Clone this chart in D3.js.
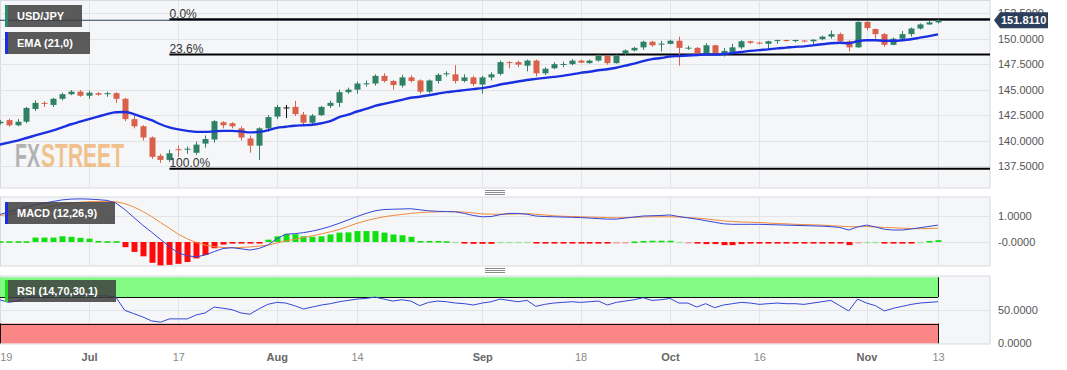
<!DOCTYPE html>
<html><head><meta charset="utf-8">
<script src="https://cdn.jsdelivr.net/npm/d3@7"></script>
<style>body{margin:0;background:#fff;} svg{display:block;font-family:"Liberation Sans",Arial,sans-serif;}</style>
</head><body><svg id="c" width="1067" height="370"></svg>
<script>
// ---- data (index 0 = Jun 19, one entry per trading day up to Nov 13) ----
const openP = [141.7,142.0,141.5,141.85,143.1,143.7,143.5,144.1,144.55,144.8,
144.4,144.65,144.55,144.65,144.1,142.1,141.4,140.3,138.5,138.1,
139.15,139.1,138.8,139.7,140.1,141.8,141.7,141.2,140.2,139.5,
141.2,142.35,143.25,143.3,142.55,141.75,142.5,143.4,143.7,144.75,
145.0,145.55,145.6,146.35,145.85,145.4,146.2,145.9,144.8,145.85,
146.55,146.5,145.85,146.2,145.5,146.2,146.55,147.7,147.7,147.35,
147.85,146.6,147.1,147.48,147.5,147.85,147.6,147.85,148.3,147.6,
148.5,148.85,149.15,149.7,149.48,149.5,149.8,149.08,149.1,148.5,
149.35,148.6,148.7,149.15,149.75,149.62,149.5,149.82,149.87,149.83,
149.82,149.75,149.95,150.2,150.45,149.75,149.15,151.65,150.95,150.45,
149.4,150.0,150.45,151.0,151.4,151.6];
const closeP = [141.85,141.5,141.85,143.2,143.7,143.6,144.1,144.55,144.8,144.4,
144.7,144.5,144.65,144.1,142.1,141.4,140.3,138.4,138.1,138.75,
139.05,139.2,139.6,140.15,141.9,141.5,141.4,140.3,139.5,141.2,
142.3,143.3,143.25,142.6,141.75,142.45,143.3,143.7,144.75,145.0,
145.6,145.62,146.35,145.85,145.45,146.2,145.85,144.8,145.9,146.45,
146.6,145.85,146.2,145.55,146.2,146.5,147.7,147.65,147.45,147.85,
146.6,147.05,147.5,147.52,147.85,147.65,147.85,148.3,147.6,148.35,
148.85,149.1,149.7,149.35,149.52,149.8,149.1,149.12,148.5,149.35,
148.5,148.8,149.15,149.75,149.6,149.58,149.75,149.86,149.83,149.87,
149.78,149.9,150.2,150.45,149.75,149.15,151.65,151.05,150.45,149.4,
150.0,150.45,151.0,151.4,151.6,151.81];
const highP = [142.0,142.15,142.1,143.3,143.95,143.85,144.2,144.7,144.95,144.95,
144.9,144.75,144.8,144.75,144.2,142.6,141.5,140.4,138.7,139.1,
139.5,139.4,139.9,140.5,142.0,141.9,141.8,141.4,140.5,141.3,
142.5,143.5,143.5,143.9,142.8,142.6,143.4,143.9,145.0,145.2,
145.8,145.9,146.5,146.6,145.95,146.45,146.4,146.0,146.0,146.6,
146.8,147.4,146.5,146.35,146.35,146.7,147.85,147.8,147.85,147.95,
147.95,147.2,147.7,147.75,148.0,147.95,147.95,148.45,148.4,148.45,
148.95,149.2,149.8,149.8,149.8,149.9,150.2,149.3,149.2,149.55,
149.4,149.1,149.5,149.85,149.8,149.7,149.8,149.9,149.9,149.9,
149.85,149.95,150.3,150.8,150.6,149.85,151.7,151.72,151.0,150.55,
150.1,150.75,151.1,151.5,151.75,151.9];
const lowP = [141.55,141.35,141.4,141.7,142.9,143.3,143.3,143.95,144.45,144.3,
144.1,144.4,144.3,143.7,141.9,141.2,140.0,138.2,137.8,137.9,
138.4,138.7,138.6,139.3,139.8,141.2,141.2,140.0,138.8,138.1,
140.9,142.1,142.2,142.4,141.5,141.6,142.4,143.2,143.3,144.6,
144.6,145.3,145.4,145.7,145.0,145.2,145.7,144.6,144.65,145.6,
146.3,145.6,145.7,145.35,144.6,145.9,146.4,147.1,147.2,146.8,
146.3,146.45,147.0,147.2,147.4,147.6,147.55,147.75,147.45,147.55,
148.4,148.75,148.9,149.2,148.75,149.45,147.35,148.9,148.45,148.4,
148.4,148.25,148.6,149.0,149.5,149.45,148.9,149.5,149.7,149.65,
149.65,149.45,149.85,150.0,149.6,148.75,149.1,150.8,150.0,149.2,
149.35,149.95,150.2,150.9,151.35,151.5];
const ema21 = [139.6,139.8,140.0,140.25,140.5,140.75,141.0,141.3,141.6,141.85,
142.1,142.35,142.6,142.78,142.8,142.6,142.3,142.0,141.6,141.3,
141.1,140.95,140.85,140.85,140.9,140.95,140.95,140.9,140.8,140.85,
141.0,141.25,141.35,141.45,141.5,141.55,141.7,141.9,142.3,142.55,
142.85,143.1,143.4,143.6,143.8,144.0,144.2,144.3,144.45,144.6,
144.75,144.85,144.95,145.05,145.15,145.3,145.5,145.65,145.8,145.95,
146.05,146.15,146.25,146.35,146.5,146.65,146.75,146.9,147.0,147.15,
147.35,147.55,147.8,148.0,148.1,148.25,148.3,148.35,148.4,148.45,
148.45,148.5,148.6,148.7,148.8,148.88,148.95,149.05,149.12,149.2,
149.25,149.35,149.45,149.55,149.6,149.55,149.75,149.85,149.85,149.8,
149.8,149.85,149.95,150.1,150.25,150.43];
const macdLine = [1.06,1.15,1.25,1.35,1.43,1.5,1.56,1.62,1.65,1.66,
1.65,1.63,1.6,1.5,1.25,0.95,0.65,0.38,0.1,-0.18,
-0.42,-0.53,-0.57,-0.5,-0.37,-0.25,-0.22,-0.26,-0.31,-0.25,
-0.12,0.12,0.3,0.32,0.36,0.42,0.5,0.6,0.72,0.85,
0.98,1.1,1.2,1.25,1.26,1.27,1.28,1.24,1.2,1.18,
1.17,1.16,1.1,1.02,0.97,0.98,1.05,1.1,1.1,1.07,
1.0,0.98,0.97,0.96,0.95,0.94,0.92,0.9,0.88,0.88,
0.92,0.96,1.0,1.01,1.02,1.04,0.98,0.93,0.88,0.82,
0.76,0.7,0.68,0.68,0.68,0.68,0.67,0.66,0.65,0.64,
0.63,0.62,0.61,0.59,0.56,0.46,0.58,0.65,0.58,0.49,
0.46,0.46,0.5,0.55,0.6,0.65];
const signalLine = [1.02,1.06,1.12,1.18,1.25,1.32,1.38,1.45,1.5,1.53,
1.55,1.56,1.56,1.55,1.48,1.35,1.18,0.98,0.75,0.53,
0.3,0.12,-0.02,-0.12,-0.18,-0.21,-0.22,-0.21,-0.19,-0.16,
-0.12,-0.04,0.04,0.1,0.17,0.24,0.31,0.39,0.48,0.6,
0.72,0.82,0.9,0.97,1.02,1.06,1.1,1.13,1.15,1.16,
1.17,1.17,1.15,1.12,1.08,1.07,1.07,1.07,1.08,1.09,
1.07,1.04,1.01,0.99,0.98,0.97,0.96,0.95,0.94,0.93,
0.94,0.95,0.96,0.97,0.97,0.97,0.96,0.94,0.92,0.89,
0.85,0.81,0.79,0.77,0.76,0.75,0.73,0.71,0.7,0.68,
0.67,0.66,0.65,0.63,0.61,0.59,0.59,0.59,0.58,0.56,
0.55,0.53,0.52,0.51,0.52,0.53];
const histogram = [0.03,0.03,0.03,0.03,0.17,0.17,0.17,0.22,0.2,0.16,
0.13,0.04,0.03,0.03,-0.2,-0.38,-0.55,-0.8,-0.9,-0.88,
-0.84,-0.77,-0.63,-0.5,-0.24,-0.1,-0.03,-0.03,-0.03,-0.03,
0.09,0.22,0.3,0.3,0.22,0.2,0.22,0.29,0.36,0.37,
0.42,0.42,0.42,0.36,0.29,0.26,0.2,0.04,0.04,0.04,
0.03,0.01,-0.03,-0.07,-0.07,-0.07,0.01,0.01,0.01,0.01,
-0.04,-0.04,-0.04,-0.04,-0.04,-0.04,-0.05,-0.05,-0.04,-0.01,
-0.01,0.02,0.04,0.05,0.05,0.05,0.01,-0.01,-0.06,-0.08,
-0.08,-0.12,-0.12,-0.08,-0.06,-0.05,-0.04,-0.04,-0.04,-0.04,
-0.04,-0.04,-0.03,-0.03,-0.02,-0.12,-0.01,0.01,0.01,-0.06,
-0.06,-0.05,-0.03,0.01,0.04,0.07];
const rsi14 = [66,62,64,70,72,71,73,74,74,72,
73,72,72,70,50,45,40,34,32,37,
37,37,43,46,55,53,51,46,44,52,
59,62,61,57,52,55,58,60,63,65,
67,68,70,67,64,66,64,57,62,64,
63,61,60,58,61,63,67,65,63,65,
56,59,61,62,63,62,63,64,58,62,
64,66,69,65,66,68,61,61,55,60,
54,58,60,62,61,59,60,61,60,60,
59,61,63,65,57,49,67,61,57,49,
53,56,59,61,62,63];
const tickIndex = [0,10,20,31,40,54,65,75,85,97,105];
const tickLabels = ["19","Jul","17","Aug","14","Sep","18","Oct","16","Nov","13"];
const monthLabels = ["Jul","Aug","Sep","Oct","Nov"];
const priceTicks = [137.5,140,142.5,145,147.5,150,152.5];
const macdTicks = [-0.00001,1];
const rsiTicks = [0,50];
const fibLabels = ["0.0%","23.6%","100.0%"];
const fibValues = [151.9,148.44,137.24];
const fibStartIndex = 19;
const lastPrice = 151.811;
const rsiBands = [70,30];

// ---- layout ----
const svg = d3.select("#c");
const PR = 990;
const main = {top:0.5, bottom:188};
const mac = {top:197, bottom:266};
const rs = {top:276, bottom:344};
const x = d3.scaleLinear().domain([0,105]).range([-0.37,938]);
const yP = d3.scaleLinear().domain([135.34,153.8]).range([188,0]);
const yM = d3.scaleLinear().domain([-0.923,1.731]).range([266,197]);
const yR = d3.scaleLinear().domain([0,100]).range([343.3,277.3]);
const GRID = "#e2e4e8", BORDER="#d6d9df", BG="#f5f6f8";
const UP="#2f8065", DN="#d9604b";
const idx = d3.range(openP.length);

const defs = svg.append("defs");
[["cm",main],["cmacd",mac],["crsi",rs]].forEach(([id,p])=>{
  defs.append("clipPath").attr("id",id).append("rect").attr("x",0).attr("y",p.top).attr("width",PR).attr("height",p.bottom-p.top);
});

// panel backgrounds
[main,mac,rs].forEach(p=>{
  svg.append("rect").attr("x",0.5).attr("y",p.top).attr("width",PR-0.5).attr("height",p.bottom-p.top)
    .attr("fill",BG).attr("stroke",BORDER);
});

// vertical grid
[main,mac,rs].forEach(p=>{
  svg.append("g").selectAll("line").data(tickIndex.slice(1)).join("line")
    .attr("x1",d=>Math.round(x(d))+0.5).attr("x2",d=>Math.round(x(d))+0.5)
    .attr("y1",p.top).attr("y2",p.bottom).attr("stroke",GRID);
});
// horizontal grid
svg.append("g").selectAll("line").data(priceTicks).join("line")
  .attr("x1",0).attr("x2",PR).attr("y1",d=>Math.round(yP(d))+0.5).attr("y2",d=>Math.round(yP(d))+0.5).attr("stroke",GRID);
svg.append("g").selectAll("line").data(macdTicks).join("line")
  .attr("x1",0).attr("x2",PR).attr("y1",d=>Math.round(yM(d))+0.5).attr("y2",d=>Math.round(yM(d))+0.5).attr("stroke",GRID);
svg.append("g").selectAll("line").data([50]).join("line")
  .attr("x1",0).attr("x2",PR).attr("y1",d=>Math.round(yR(d))+0.5).attr("y2",d=>Math.round(yR(d))+0.5).attr("stroke",GRID);

// watermark (two words, each squeezed horizontally to the reference width)
function squeezed(txt,x0,w,col){
  const g = svg.append("g").attr("opacity",0.75);
  const t = g.append("text").attr("font-size",34).attr("font-weight","bold").attr("fill",col).text(txt);
  const nat = t.node().getComputedTextLength();
  g.attr("transform",`translate(${x0},167) scale(${w/nat},1)`);
}
squeezed("FX",15,25,"#9c9c9c");
squeezed("STREET",41,83,"#efb06a");

// main panel content
const gm = svg.append("g").attr("clip-path","url(#cm)");
gm.append("line").attr("x1",0).attr("x2",PR).attr("y1",yP(lastPrice)).attr("y2",yP(lastPrice)).attr("stroke","#2b3f5c").attr("stroke-width",1);
// fib lines
gm.selectAll(".fib").data(fibValues).join("line")
  .attr("x1",x(fibStartIndex)).attr("x2",PR).attr("y1",d=>yP(d)).attr("y2",d=>yP(d))
  .attr("stroke","#000").attr("stroke-width",2);
svg.selectAll(".fibt").data(fibValues).join("text")
  .attr("x",x(fibStartIndex)).attr("y",d=>yP(d)-1.8).attr("font-size",12).attr("fill","#333")
  .text((d,i)=>fibLabels[i]);
// candles
const colorOf = i => closeP[i]>openP[i]?UP:(closeP[i]<openP[i]?DN:"#111");
gm.selectAll(".wick").data(idx).join("line")
  .attr("x1",i=>Math.round(x(i))+0.5).attr("x2",i=>Math.round(x(i))+0.5)
  .attr("y1",i=>yP(highP[i])).attr("y2",i=>yP(lowP[i])).attr("stroke",colorOf).attr("stroke-width",1);
gm.selectAll(".body").data(idx).join("rect")
  .attr("x",i=>Math.round(x(i))-2.5).attr("width",6)
  .attr("y",i=>yP(Math.max(openP[i],closeP[i])))
  .attr("height",i=>Math.max(1,Math.abs(yP(openP[i])-yP(closeP[i]))))
  .attr("fill",colorOf);
// EMA
gm.append("path").datum(idx).attr("fill","none").attr("stroke","#1a30e0").attr("stroke-width",2.4)
  .attr("d",d3.line().x(i=>x(i)).y(i=>yP(ema21[i])).curve(d3.curveMonotoneX));

// MACD panel
const gmc = svg.append("g").attr("clip-path","url(#cmacd)");
gmc.selectAll("rect").data(idx).join("rect")
  .attr("x",i=>Math.round(x(i))-2.5).attr("width",6)
  .attr("y",i=>Math.min(yM(0),yM(histogram[i])))
  .attr("height",i=>Math.max(1.6,Math.abs(yM(histogram[i])-yM(0))))
  .attr("fill",i=>histogram[i]>=0?"#10e010":"#ff0a0a")
  .attr("opacity",i=>Math.abs(histogram[i])<0.015?0.3:1);
gmc.append("path").datum(idx).attr("fill","none").attr("stroke","#f08a3c").attr("stroke-width",1)
  .attr("d",d3.line().x(i=>x(i)).y(i=>yM(signalLine[i])));
gmc.append("path").datum(idx).attr("fill","none").attr("stroke","#3546d6").attr("stroke-width",1)
  .attr("d",d3.line().x(i=>x(i)).y(i=>yM(macdLine[i])));

// RSI panel
const gr = svg.append("g").attr("clip-path","url(#crsi)");
gr.append("rect").attr("x",0).attr("width",x(105)).attr("y",yR(100)).attr("height",yR(rsiBands[0])-yR(100)).attr("fill","#7cfa7c").attr("opacity",0.95);
gr.append("rect").attr("x",0).attr("width",x(105)).attr("y",yR(rsiBands[1])).attr("height",yR(0)-yR(rsiBands[1])).attr("fill","#fa7f7f").attr("opacity",0.95);
gr.selectAll(".bl").data(rsiBands).join("line").attr("x1",0).attr("x2",x(105))
  .attr("y1",d=>Math.round(yR(d))+0.5).attr("y2",d=>Math.round(yR(d))+0.5).attr("stroke","#111");
gr.append("line").attr("x1",Math.round(x(105))+0.5).attr("x2",Math.round(x(105))+0.5).attr("y1",yR(100)).attr("y2",yR(rsiBands[0])).attr("stroke","#111");
gr.append("line").attr("x1",Math.round(x(105))+0.5).attr("x2",Math.round(x(105))+0.5).attr("y1",yR(rsiBands[1])).attr("y2",yR(0)).attr("stroke","#111");
gr.append("line").attr("x1",0.5).attr("x2",0.5).attr("y1",yR(rsiBands[1])).attr("y2",yR(0)).attr("stroke","#111");
gr.append("path").datum(idx).attr("fill","none").attr("stroke","#3546d6").attr("stroke-width",1)
  .attr("d",d3.line().x(i=>x(i)).y(i=>yR(rsi14[i])));

// right axes
function rightAxis(scale,ticks,fmt){
  const g = svg.append("g").attr("transform",`translate(${PR},0)`)
    .call(d3.axisRight(scale).tickValues(ticks).tickSize(0).tickPadding(8).tickFormat(fmt));
  g.select(".domain").remove();
  g.selectAll("text").attr("font-size",11).attr("fill","#555").attr("font-family","Liberation Sans, Arial, sans-serif");
}
rightAxis(yP,priceTicks,d=>d.toFixed(4));
rightAxis(yM,macdTicks,d=>d.toFixed(4));
rightAxis(yR,rsiTicks,d=>d.toFixed(4));

// last price tag
const yp = yP(lastPrice);
svg.append("path").attr("d",`M994,${yp} L1000,${yp-8} L1048,${yp-8} L1048,${yp+8} L1000,${yp+8} Z`).attr("fill","#2c3e5a");
svg.append("text").attr("x",1001).attr("y",yp).attr("dy","0.35em").attr("font-size",11).attr("font-weight","bold").attr("fill","#fff").text(lastPrice.toFixed(4));

// bottom axis
const gx = svg.append("g").attr("transform",`translate(0,${rs.bottom})`)
  .call(d3.axisBottom(x).tickValues(tickIndex).tickSize(0).tickPadding(9).tickFormat((d,i)=>tickLabels[i]));
gx.select(".domain").remove();
gx.selectAll("text").attr("font-size",11).attr("font-family","Liberation Sans, Arial, sans-serif")
  .attr("fill",(d,i)=>monthLabels.includes(tickLabels[i])?"#666":"#8a8a8a")
  .attr("font-weight",(d,i)=>monthLabels.includes(tickLabels[i])?"bold":"normal")
  .attr("text-anchor",(d,i)=>i===0?"start":"middle");

// handles
[192,270].forEach(yy=>{
  [-2,0,2].forEach(o=>svg.append("line").attr("x1",485).attr("x2",505).attr("y1",yy+o+0.5).attr("y2",yy+o+0.5).attr("stroke","#8a8a8a"));
});

// legend boxes
function legend(x0,y0,w,txt,col){
  svg.append("rect").attr("x",x0).attr("y",y0).attr("width",w).attr("height",22).attr("fill","rgba(62,62,62,0.85)");
  svg.append("rect").attr("x",x0).attr("y",y0).attr("width",3).attr("height",22).attr("fill",col);
  svg.append("text").attr("x",x0+12).attr("y",y0+11).attr("dy","0.35em").attr("font-size",11).attr("font-weight","bold").attr("fill","#fff").text(txt);
}
legend(5,5,77,"USD/JPY","#2a8a6a");
legend(5,32,85,"EMA (21,0)","#1a30e0");
legend(5,202,110,"MACD (12,26,9)","#1a30e0");
legend(5,280,111,"RSI (14,70,30,1)","#22dd22");
</script></body></html>
